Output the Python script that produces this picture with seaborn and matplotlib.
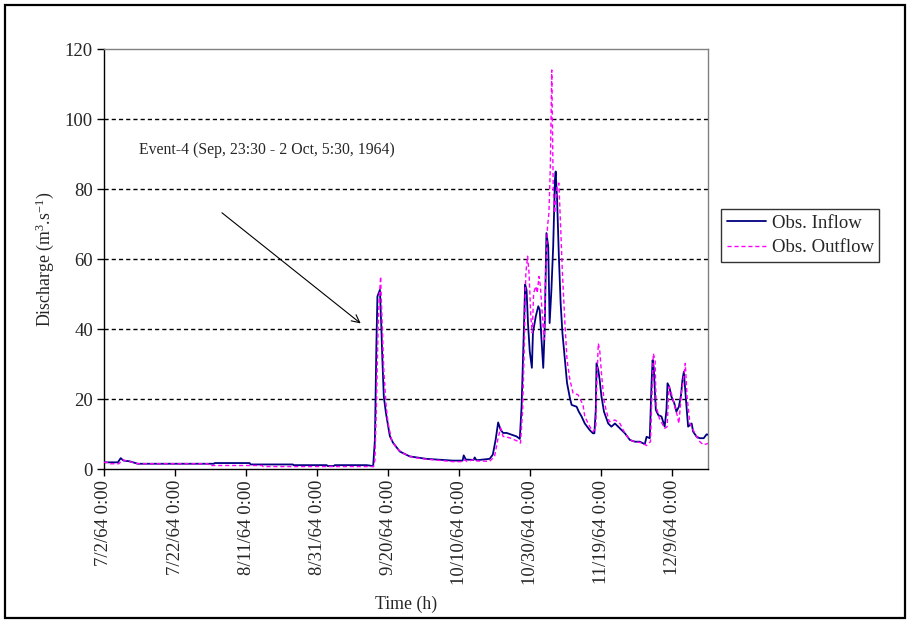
import matplotlib
matplotlib.use("Agg")
import matplotlib.pyplot as plt
import seaborn as sns
import pandas as pd
from matplotlib.patches import Rectangle

# ---- data (days since 7/2/64 0:00, discharge m3/s) ----
inflow_day = [0, 3.9, 4.7, 5.5, 7.2, 9.5, 30.9, 31.2, 41.0, 41.3, 53.2, 53.4, 62.7, 63.0,
              64.7, 65.0, 74.0, 75.4, 75.8, 76.3, 76.7, 77.0, 77.7, 78.1, 78.4, 78.8, 79.4,
              80.5, 81.4, 83.3, 86.1, 90.8, 98.2, 101.0, 101.3, 101.9, 104.1, 104.4, 104.9,
              108.6, 109.5, 110.3, 111.0, 111.7, 112.4, 113.4, 114.8, 116.2, 117.1, 117.6,
              118.0, 118.3, 118.6, 119.0, 119.4, 119.9, 120.5, 120.8, 121.6, 122.3, 122.7,
              123.2, 123.7, 124.1, 124.6, 125.1, 125.5, 126.0, 126.5, 127.0, 127.2, 127.6,
              128.1, 128.6, 129.1, 129.8, 130.4, 131.2, 131.7, 133.1, 133.7, 134.5, 135.4,
              136.8, 137.7, 138.1, 138.5, 138.7, 139.2, 139.6, 140.1, 140.8, 142.0, 142.9,
              143.9, 145.3, 146.7, 148.1, 149.5, 150.9, 152.3, 152.8, 153.7, 154.2, 154.5,
              154.8, 155.4, 156.1, 157.0, 157.9, 158.4, 158.7, 159.2, 159.8, 160.6, 161.2,
              161.9, 162.5, 162.9, 163.3, 163.9, 164.5, 165.5, 165.9, 166.9, 167.8, 168.9,
              169.7, 170.1]
inflow_val = [1.9, 1.9, 3.1, 2.4, 2.2, 1.5, 1.5, 1.7, 1.7, 1.3, 1.3, 1.1, 1.1, 0.85,
              0.85, 1.1, 1.1, 0.9, 0.75, 8.4, 35, 49.3, 51.2, 40.7, 31.2, 20.7, 16,
              9.4, 7.5, 5, 3.6, 2.9, 2.4, 2.4, 3.9, 2.7, 2.6, 3.3, 2.5,
              2.9, 4.1, 8.4, 13.3, 11.2, 10.3, 10.3, 9.8, 9.3, 8.6, 17.9,
              31.2, 41.7, 52.7, 51.2, 41.7, 33.6, 28.9, 38.9, 43.6, 46.5, 45.5,
              37, 28.9, 39.8, 67.4, 63.6, 41.7, 51.2, 63.6, 82.7, 85, 77,
              60.8, 47.4, 38.9, 31.2, 24.6, 20.3, 18.3, 17.8, 16.4, 15, 13,
              11.1, 10.2, 10.2, 16.9, 30.2, 28.3, 25.4, 20.7, 16.4, 13, 12.1,
              13, 11.6, 10.2, 8.3, 7.8, 7.8, 7.1, 9.2, 8.8, 24.5, 31.1,
              29.2, 16.9, 15.4, 15, 12.1, 16.9, 24.5, 23.5, 20.7, 18.8, 16.4,
              17.8, 21.1, 25.4, 27.8, 19.7, 12.1, 13, 10.7, 9.2, 8.8, 8.8,
              9.9, 9.8]

outflow_day = [0, 1.5, 1.8, 4.2, 5.2, 6.5, 9.5, 29.3, 29.6, 44.5, 44.8, 75.9, 76.3, 76.7,
               77.2, 77.5, 77.9, 78.3, 78.8, 79.4, 80.0, 81.0, 82.4, 84.2, 87.0, 90.8,
               98.3, 101.0, 101.6, 102.3, 104.4, 105.0, 108.6, 110.0, 111.0, 111.7, 112.4,
               114.3, 116.6, 117.3, 117.9, 118.3, 118.8, 119.3, 119.7, 120.2, 120.6, 121.0,
               121.6, 122.0, 122.5, 122.9, 123.4, 123.9, 124.4, 124.9, 125.3, 125.7, 126.1,
               126.5, 126.9, 127.6, 128.1, 128.6, 129.1, 129.8, 130.4, 131.2, 132.1, 133.5,
               134.9, 135.4, 136.8, 137.7, 138.5, 138.7, 139.2, 139.6, 140.1, 140.8, 141.4,
               142.3, 143.9, 145.3, 146.7, 148.1, 149.5, 151.4, 152.8, 153.9, 154.7, 155.2,
               155.5, 156.4, 157.9, 158.6, 159.1, 159.8, 160.5, 161.4, 161.9, 162.6, 163.3,
               163.7, 164.2, 165.0, 166.4, 167.8, 168.8, 170.1]
outflow_val = [1.9, 1.9, 1.5, 1.5, 2.6, 2.3, 1.5, 1.5, 1.0, 1.0, 0.7, 0.7, 2.6, 16.9,
               40.7, 48.3, 55, 42.6, 28.3, 18.8, 13, 8.3, 5.9, 4.5, 3.3, 2.8,
               2.1, 2.1, 2.6, 2.1, 2.8, 2.3, 2.2, 3.6, 8.9, 11.7, 9.3,
               8.9, 7.9, 7.4, 17, 32.2, 56, 60.8, 56, 43.6, 38.9, 50.3,
               52.2, 50.3, 55, 52.2, 44.6, 37, 56, 69.3, 73.1, 86.5, 114,
               80.8, 73.1, 80.8, 81.7, 69.3, 56, 41.7, 31.2, 25.5, 21.7, 21.2,
               18.3, 15, 12.1, 10.7, 11.6, 21.6, 35.9, 34, 27.3, 19.7, 16.9,
               13.5, 14, 13, 10.2, 8.3, 7.8, 7.5, 6.7, 7.8, 33, 31.1,
               17.8, 14.5, 11.6, 12.1, 23.5, 21.6, 18.8, 15.4, 13, 21.6, 26.4,
               30.2, 20.7, 13, 10.2, 7.8, 6.9, 7.3]

tick_days = [0, 20, 40, 60, 80, 100, 120, 140, 160]
tick_labels = ["7/2/64 0:00", "7/22/64 0:00", "8/11/64 0:00", "8/31/64 0:00",
               "9/20/64 0:00", "10/10/64 0:00", "10/30/64 0:00", "11/19/64 0:00",
               "12/9/64 0:00"]
y_ticks = [0, 20, 40, 60, 80, 100, 120]

sns.set_style("white")
plt.rcParams["font.family"] = ["Liberation Serif", "DejaVu Serif"]
plt.rcParams["mathtext.fontset"] = "custom"
plt.rcParams["mathtext.rm"] = "Liberation Serif"
plt.rcParams["mathtext.it"] = "Liberation Serif:italic"

fig = plt.figure(figsize=(9.11, 6.23), dpi=100)
L, R, T, B = 104 / 911, 708 / 911, 49 / 623, 469 / 623
ax = fig.add_axes([L, 1 - B, R - L, B - T])

df_in = pd.DataFrame({"day": inflow_day, "q": inflow_val})
df_out = pd.DataFrame({"day": outflow_day, "q": outflow_val})

sns.lineplot(data=df_in, x="day", y="q", ax=ax, color="#000080", lw=1.3,
             estimator=None, sort=False, label="Obs. Inflow", zorder=3)
sns.lineplot(data=df_out, x="day", y="q", ax=ax, color="#FF00FF", lw=1.0,
             estimator=None, sort=False, label="Obs. Outflow", zorder=4)
ax.lines[1].set_dashes([3, 2])

ax.set_xlim(0, 170.1)
ax.set_ylim(0, 120)
ax.set_yticks(y_ticks)
ax.set_xticks(tick_days)
ax.set_xticklabels(tick_labels, rotation=90)
ax.tick_params(axis="both", labelsize=13.5, length=5, width=1, color="black",
               direction="out", bottom=True, left=True, pad=3)

for y in y_ticks[1:-1]:
    ax.axhline(y, color="black", lw=1.0, dashes=(3, 2.2), zorder=1)

for s in ["left", "bottom"]:
    ax.spines[s].set_color("black")
    ax.spines[s].set_linewidth(1.0)
for s in ["top", "right"]:
    ax.spines[s].set_color("#808080")
    ax.spines[s].set_linewidth(1.0)

ax.set_xlabel("Time (h)", fontsize=12.8, labelpad=8)
ax.set_ylabel("Discharge (m$^{3}$.s$^{-1}$)", fontsize=12.8, labelpad=6)

ax.text(9.8, 91.1, "Event-4 (Sep, 23:30 - 2 Oct, 5:30, 1964)", fontsize=11.3,
        va="center", ha="left")
ax.annotate("", xy=(72.9, 41.1), xytext=(32.6, 73.7),
            arrowprops=dict(arrowstyle="->", lw=0.8, color="black", mutation_scale=14))

leg = ax.legend(loc="upper left", bbox_to_anchor=(721 / 911, 1 - 209 / 623),
                bbox_transform=fig.transFigure, fontsize=13.5, frameon=True,
                fancybox=False, edgecolor="black", handlelength=2.1,
                handletextpad=0.3, labelspacing=0.4, borderpad=0.3,
                borderaxespad=0)
leg.get_frame().set_linewidth(1.0)

fig.patches.append(Rectangle((5 / 911, 1 - 618 / 623), 900 / 911, 613 / 623,
                             transform=fig.transFigure, fill=False,
                             edgecolor="black", lw=1.6))

fig.savefig("out.png", dpi=100)
